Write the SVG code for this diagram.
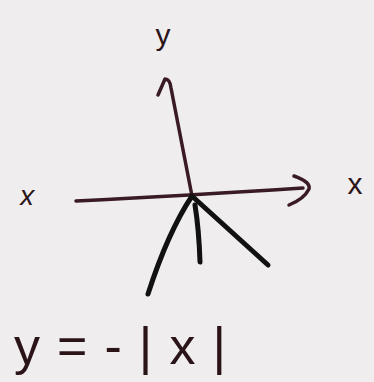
<svg xmlns="http://www.w3.org/2000/svg" width="374" height="382" viewBox="0 0 374 382">
<style>
.ax{fill:none;stroke:#3a1a24;stroke-width:3.5;stroke-linecap:round;stroke-linejoin:round}
.gr{fill:none;stroke:#111;stroke-width:5;stroke-linecap:round;stroke-linejoin:round}
.t{font-family:"Liberation Sans",Arial,sans-serif;fill:#2a1418}
</style>
<rect width="374" height="382" fill="#efeded"/>
<g id="axes">
<path id="y-axis" class="ax" d="M158,95 L165,79 Q170,79 171,88 L192,196"/>
<path id="x-axis" class="ax" d="M76,201 Q180,196 303,188"/>
<path id="x-arrow" class="ax" d="M294,176 Q311,182 309,189 Q304,199 289,205"/>
</g>
<g id="graph">
<path class="gr" d="M192,196 Q168,232 148,294"/>
<path class="gr" d="M193,197 L268,265"/>
<path class="gr" d="M195,205 Q199,230 200,262"/>
</g>
<g id="labels">
<text class="t" x="163" y="45" font-size="30" text-anchor="middle">y</text>
<text class="t" x="22" y="206" font-size="28" font-style="italic" transform="rotate(180 28 198)">x</text>
<text class="t" x="355" y="194" font-size="30" text-anchor="middle">x</text>
<text class="t" x="14" y="364" font-size="52" textLength="212" lengthAdjust="spacing">y=-|x|</text>
</g>
</svg>
